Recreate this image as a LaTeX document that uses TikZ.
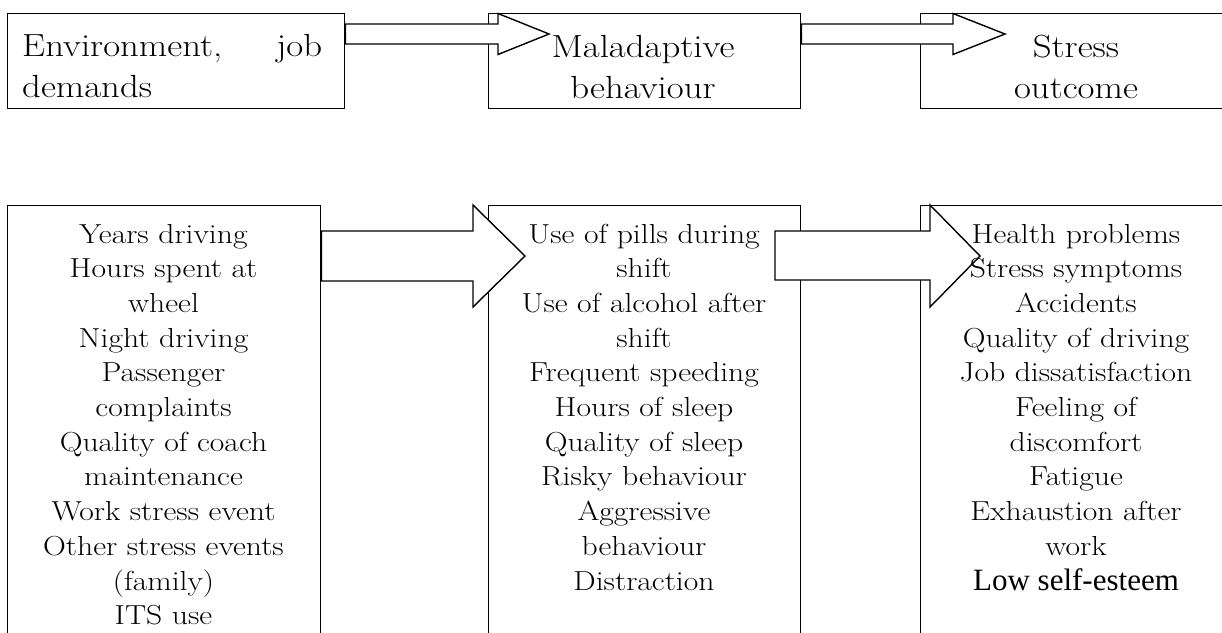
\documentclass[tikz,border=0pt]{standalone}
\usepackage{fontspec}
\newfontfamily\tnr{Liberation Serif}
\newfontfamily\wide{Latin Modern Roman}[FakeStretch=1.15]
\begin{document}
\begin{tikzpicture}[x=1pt,y=-1pt,
  box/.style={draw, line width=1.4pt, inner sep=0pt, anchor=north west},
  barrow/.style={draw, fill=white, line width=1.4pt, line join=miter},
  toptxt/.style={font=\wide\fontsize{32}{41}\selectfont, anchor=base, inner sep=0pt},
  lowtxt/.style={font=\wide\fontsize{27.5}{34}\selectfont, anchor=base, inner sep=0pt}]
\useasboundingbox (0,0) rectangle (1222,632);
\clip (0,0) rectangle (1222,632);
% boxes
\node[box, minimum width=337pt, minimum height=95pt] (b1) at (7,13) {};
\node[box, minimum width=312pt, minimum height=95pt] (b2) at (488,13) {};
\node[box, minimum width=312pt, minimum height=95pt] (b3) at (920,13) {};
\node[box, minimum width=313pt, minimum height=470pt] (b4) at (7,205) {};
\node[box, minimum width=312pt, minimum height=470pt] (b5) at (488,205) {};
\node[box, minimum width=312pt, minimum height=470pt] (b6) at (920,205) {};
% block arrows
\draw[barrow] (b1.east |- 0,24) -- (498,24) -- (498,13.5) -- (549,34) -- (498,54.5) -- (498,44) -- (b1.east |- 0,44) -- cycle;
\draw[barrow] (b2.east |- 0,24) -- (953,24) -- (953,13.5) -- (1005,34) -- (953,54.5) -- (953,44) -- (b2.east |- 0,44) -- cycle;
\draw[barrow] (b4.east |- 0,231) -- (473,231) -- (473,205) -- (525,256) -- (473,307) -- (473,281) -- (b4.east |- 0,281) -- cycle;
\coordinate (a4s) at (775,231);
\coordinate (a4e) at (775,280);
\draw[barrow] (a4s) -- (930,231) -- (930,205) -- (980,256) -- (930,307) -- (930,280) -- (a4e) -- cycle;
% top texts
\node[toptxt, anchor=base west] (t11) at (22,56) {\makebox[300pt][s]{Environment,\hfill job}};
\node[toptxt, anchor=base west] (t12) at (22,97) {demands};
\node[toptxt] (t21) at (643,57) {Maladaptive};
\node[toptxt] (t22) at (643,98) {behaviour};
\node[toptxt] (t31) at (1076,57) {Stress};
\node[toptxt] (t32) at (1076,98) {outcome};
% bottom texts
\foreach \s [count=\i] in {Years driving, Hours spent at, wheel, Night driving, Passenger, complaints, Quality of coach, maintenance, Work stress event, Other stress events, (family), ITS use}
  \node[lowtxt] (la\i) at (163.5,{243+34.7*(\i-1)}) {\s};
\foreach \s [count=\i] in {Use of pills during, shift, Use of alcohol after, shift, Frequent speeding, Hours of sleep, Quality of sleep, Risky behaviour, Aggressive, behaviour, Distraction}
  \node[lowtxt] (lb\i) at (644,{243+34.7*(\i-1)}) {\s};
\foreach \s [count=\i] in {Health problems, Stress symptoms, Accidents, Quality of driving, Job dissatisfaction, Feeling of, discomfort, Fatigue, Exhaustion after, work}
  \node[lowtxt] (lc\i) at (1076,{243+34.7*(\i-1)}) {\s};
\node[lowtxt, font=\tnr\fontsize{31}{34}\selectfont] (lc11) at (1076,{243+34.7*10}) {Low self-esteem};
\end{tikzpicture}
\end{document}
